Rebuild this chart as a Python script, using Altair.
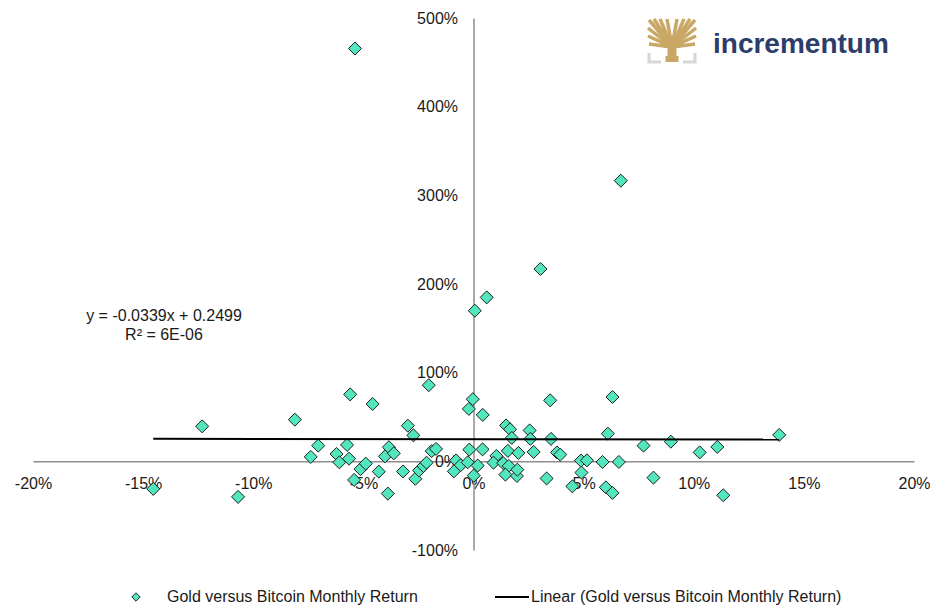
import altair as alt
import pandas as pd

# Monthly returns (fractions)
gold_ret = [-0.1454, -0.1232, -0.1069, -0.0811, -0.0739, -0.0705, -0.0622, -0.0609, -0.0574, -0.0565,
            -0.0560, -0.0542, -0.0513, -0.0489, -0.0458, -0.0430, -0.0402, -0.0389, -0.0384, -0.0362,
            -0.0320, -0.0298, -0.0273, -0.0264, -0.0247, -0.0227, -0.0213, -0.0203, -0.0190, -0.0170,
            -0.0089, -0.0079, -0.0058, -0.0026, -0.0019, -0.0003, -0.0021, 0.0042, 0.0041, 0.0019,
            0.0001, 0.0148, 0.0166, 0.0174, 0.0255, 0.0258, 0.0348, 0.0352, 0.0104, 0.0091,
            0.0135, 0.0156, 0.0204, 0.0273, 0.0379, 0.0394, 0.0160, 0.0145, 0.0197, 0.0199,
            0.0332, 0.0488, 0.0515, 0.0490, 0.0449, 0.0586, 0.0660, 0.0601, 0.0631, 0.0817,
            0.1134, 0.0631, 0.0610, 0.0772, 0.0896, 0.1027, 0.1107, 0.1388, -0.0538, 0.0669,
            0.0304, 0.0060, 0.0006]
btc_ret = [-0.311, 0.395, -0.401, 0.470, 0.050, 0.177, 0.083, -0.011, 0.185, 0.030,
           0.755, -0.210, -0.088, -0.026, 0.647, -0.116, 0.056, -0.364, 0.159, 0.090,
           -0.114, 0.402, 0.293, -0.197, -0.103, -0.053, -0.015, 0.859, 0.115, 0.140,
           -0.113, 0.010, -0.043, -0.011, 0.132, 0.701, 0.591, 0.524, 0.135, -0.048,
           -0.161, 0.405, 0.361, 0.264, 0.349, 0.253, 0.688, 0.253, 0.061, -0.015,
           -0.020, 0.118, 0.095, 0.106, 0.100, 0.076, -0.052, -0.150, -0.165, -0.094,
           -0.193, 0.008, 0.011, -0.127, -0.282, -0.007, -0.007, -0.293, -0.356, -0.184,
           -0.383, 0.726, 0.312, 0.177, 0.222, 0.101, 0.162, 0.298, 4.656, 3.165,
           2.169, 1.849, 1.699]

# Linear trend line (y = -0.0339x + 0.2499) endpoints
trend_x = [-0.1454, 0.1388]
trend_y = [0.2548, 0.2452]

x_ticks = [-0.2, -0.15, -0.1, -0.05, 0.0, 0.05, 0.1, 0.15, 0.2]
y_ticks = [-1, 0, 1, 2, 3, 4, 5]

eq_lines = ["y = -0.0339x + 0.2499", "R\u00b2 = 6E-06"]
legend_labels = ["Gold versus Bitcoin Monthly Return", "Linear (Gold versus Bitcoin Monthly Return)"]
brand = "incrementum"

FONT = "Liberation Sans"
W, H = 881, 532
xs = alt.Scale(domain=[-0.2, 0.2], nice=False, zero=False)
ys = alt.Scale(domain=[-1, 5], nice=False, zero=False)
zero_y = H * 5 / 6
zero_x = W / 2
lab = "round(datum.value*100) + '%'"

df = pd.DataFrame({"gold": gold_ret, "btc": btc_ret})
tdf = pd.DataFrame({"gold": trend_x, "btc": trend_y})

points = alt.Chart(df).mark_point(
    shape="diamond", filled=True, size=170, fill="#52e6bf", stroke="#1f1f1f",
    strokeWidth=1, opacity=1
).encode(
    x=alt.X("gold:Q", scale=xs, axis=alt.Axis(
        values=x_ticks, labelExpr=lab, offset=-(H - zero_y), ticks=False, tickSize=0, grid=False,
        domainColor="#8e8e8e", domainWidth=1.5, labelFont=FONT, labelFontSize=16,
        labelColor="#1a1a1a", labelPadding=14, title=None, labelOverlap=False, labelFlush=False)),
    y=alt.Y("btc:Q", scale=ys, axis=alt.Axis(
        values=y_ticks, labelExpr=lab, offset=-zero_x, ticks=False, tickSize=0, grid=False,
        domainColor="#8e8e8e", domainWidth=1.5, labelFont=FONT, labelFontSize=16,
        labelColor="#1a1a1a", labelPadding=16, title=None, labelOverlap=False, labelFlush=False)),
)

trend = alt.Chart(tdf).mark_line(color="black", strokeWidth=2).encode(
    x=alt.X("gold:Q", scale=xs), y=alt.Y("btc:Q", scale=ys)
)

one = pd.DataFrame({"a": [0]})


def txt(s, x, y, align="left", size=16, color="#1a1a1a", weight="normal"):
    return alt.Chart(pd.DataFrame({"t": [s]})).mark_text(
        align=align, baseline="middle", font=FONT, fontSize=size, color=color, fontWeight=weight
    ).encode(text="t:N", x=alt.value(x), y=alt.value(y))


def seg(x1, y1, x2, y2, color, w, cap="butt"):
    return alt.Chart(one).mark_rule(color=color, strokeWidth=w, strokeCap=cap).encode(
        x=alt.value(x1), y=alt.value(y1), x2=alt.value(x2), y2=alt.value(y2))


layers = [points, trend]
layers.append(txt(eq_lines[0], 131, 298, align="center"))
layers.append(txt(eq_lines[1], 131, 317, align="center"))

# legend
layers.append(alt.Chart(one).mark_point(shape="diamond", filled=True, size=70, fill="#52e6bf",
                                        stroke="#1f1f1f", strokeWidth=1, opacity=1)
              .encode(x=alt.value(103), y=alt.value(579)))
layers.append(txt(legend_labels[0], 134, 579))
layers.append(seg(462, 579, 496, 579, "black", 2))
layers.append(txt(legend_labels[1], 498, 579))

# logo (tree icon + wordmark)
gold_c = "#c9a866"
grey_c = "#d6d6d6"
for (ex, ey) in [(616, 2), (621, 1), (627, 1), (634, 1), (644, 1), (651, 1), (657, 1), (662, 2),
                 (615, 10), (663, 10), (615, 18), (663, 18), (616, 26), (662, 26)]:
    layers.append(seg(639, 29, ex, ey, gold_c, 3.5))
layers.append(seg(639, 44, 639, 22, gold_c, 9))
layers.append(seg(639, 44, 639, 38, gold_c, 13))
layers.append(seg(616, 35, 616, 44, grey_c, 3))
layers.append(seg(614.5, 44, 628, 44, grey_c, 3))
layers.append(seg(662, 35, 662, 44, grey_c, 3))
layers.append(seg(650, 44, 663.5, 44, grey_c, 3))
layers.append(txt(brand, 680, 27, size=28, color="#2c3d6b", weight="bold"))

chart = alt.layer(*layers).properties(
    width=W, height=H,
    padding={"left": 25, "top": 10, "right": 16, "bottom": 57},
    autosize=alt.AutoSizeParams(type="none"),
    background="white",
).configure_view(strokeWidth=0)

chart.save("out.html", embed_options={"renderer": "svg", "actions": False})
